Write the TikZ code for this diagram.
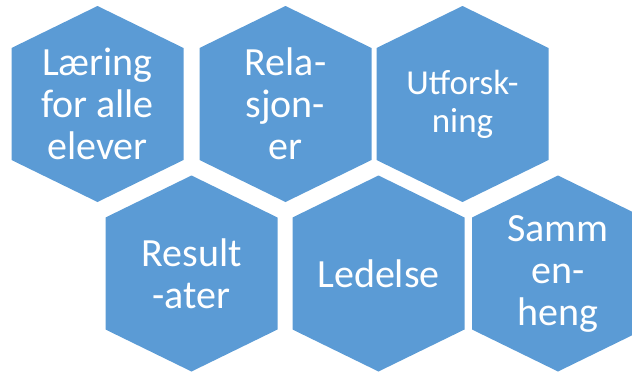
\documentclass[tikz,border=0pt]{standalone}
\usepackage{fontspec}
\setmainfont{Carlito}
\definecolor{hexblue}{RGB}{91,155,213}
\tikzset{
  hexcell/.style={fill=hexblue},
  hextext/.style={text=white, align=center, font=\fontsize{40}{42}\selectfont},
}

\begin{document}
\begin{tikzpicture}[x=1pt,y=-1pt]
                \clip (0,0) rectangle (632,372);
                \foreach \n/\cx/\cy in {laering/97.5/104, relasjoner/285.5/104, utforskning/462.5/104,
                                        resultater/191.5/273.5, ledelse/378.5/273.5, sammenheng/558/273.5}{
                    \coordinate (\n) at (\cx,\cy);
                    \fill[hexcell] (\n) +(0,-98) -- +(86,-56) -- +(86,56) -- +(0,98) -- +(-86,56) -- +(-86,-56) -- cycle;
                }
                \node[hextext] (laeringtext) at (laering) {Læring\\for alle\\elever};
                \node[hextext] (relasjonertext) at (relasjoner) {Rela-\\sjon-\\er};
                \node[hextext, font=\fontsize{35}{38}\selectfont] (utforskningtext) at (utforskning) {Utforsk-\\ning};
                \node[hextext] (resultatertext) at (resultater) {Result\\-ater};
                \node[hextext] (ledelsetext) at (ledelse) {Ledelse};
                \node[hextext] (sammenhengtext) at (sammenheng) {Samm\\en-\\heng};
            \end{tikzpicture}
\end{document}
